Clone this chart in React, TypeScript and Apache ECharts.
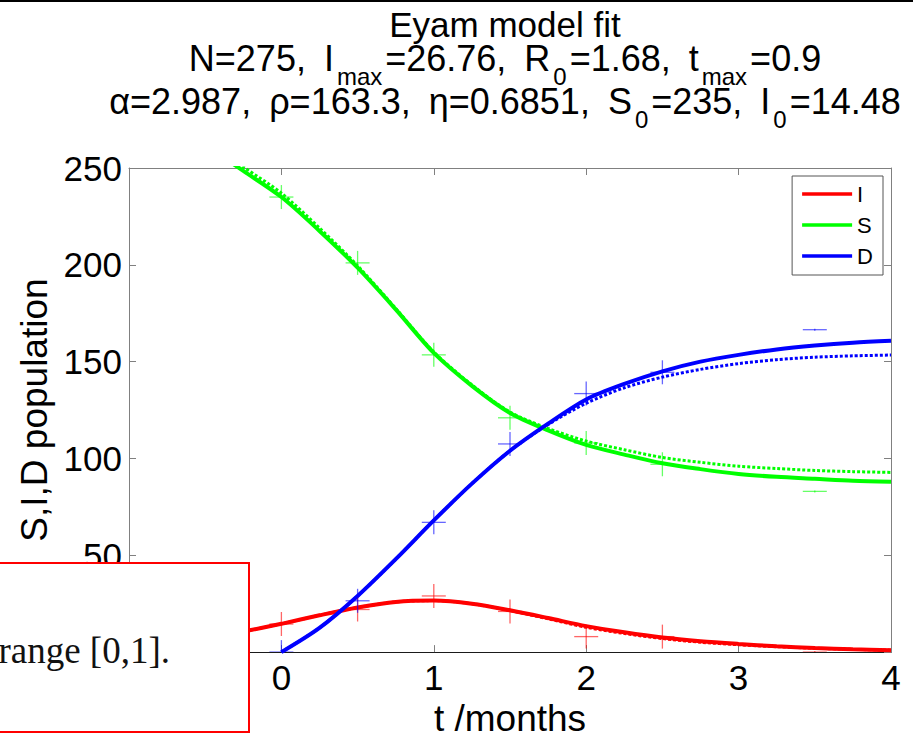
import React, { useEffect, useRef } from "react";
import * as echarts from "echarts";

const FONT = "'Liberation Sans', Arial, Helvetica, sans-serif";
const SERIF = "'Liberation Serif', 'Times New Roman', serif";

// Fitted model curves, sampled in months
const FIT_T = [-0.5, -0.25, 0, 0.25, 0.5, 0.75, 1, 1.25, 1.5, 1.75, 2, 2.25, 2.5, 2.75, 3, 3.25, 3.5, 3.75, 4];
const FIT_I = [7.0, 10.6, 14.6, 19.0, 23.0, 25.9, 26.6, 25.0, 21.6, 17.6, 13.4, 10.2, 7.5, 5.6, 4.2, 3.0, 2.1, 1.5, 1.0];
const FIT_S = [262, 248.5, 235, 217.5, 198.5, 177, 154.5, 137.5, 123.5, 114.5, 107, 102, 97.5, 94.5, 92, 90.5, 89.5, 88.5, 88];
const FIT_D = [null, null, 0, 12.5, 29, 48, 68, 87, 104, 118, 130.5, 138.5, 145, 150, 153.5, 156.3, 158.3, 159.8, 160.8];

// Second (dotted) fit
const ALT_I = [7.0, 10.6, 14.6, 19.0, 23.0, 25.9, 26.6, 25.0, 21.4, 17.2, 12.8, 9.6, 7.0, 5.1, 3.8, 2.8, 2.0, 1.4, 1.0];
const ALT_S = [264, 250.5, 237, 219, 199.5, 177.5, 155, 138, 124, 115.5, 109, 104.5, 100.5, 98, 96, 94.8, 93.8, 93.2, 92.8];
const ALT_D = [null, null, 0, 12.5, 29, 48, 68, 87, 104, 117.5, 128.5, 136.5, 142, 146, 149, 151, 152.3, 153, 153.4];

// Observed Eyam counts
const OBS_T = [0, 0.5, 1, 1.5, 2, 2.5, 3.5];
const OBS_S = [235, 201, 153.5, 121, 108, 97, 83];
const OBS_I = [14.5, 22, 29, 21, 8, 8, 0];
const OBS_D = [0, 26.5, 67, 107.5, 133.5, 144.5, 166.5];

// vertical arm (px) of each "+" marker
const CROSS_V_ARM = [12, 12, 12, 12, 12, 12, 1];

const X_MIN = -1, X_MAX = 4, X_STEP = 1;
const Y_MIN = 0, Y_MAX = 250, Y_STEP = 50;

const RED = "#ff0000";
const GREEN = "#00ff00";
const BLUE = "#0000ff";

const pairs = (ts: number[], vs: (number | null)[]) =>
  ts.map((t, i) => [t, vs[i]]).filter((p) => p[1] !== null);

const fitLine = (name: string, vs: (number | null)[], color: string, dotted: boolean) => ({
  type: "line",
  name,
  data: pairs(FIT_T, vs),
  symbol: "none",
  showSymbol: false,
  smooth: 0.3,
  clip: true,
  z: dotted ? 2 : 3,
  itemStyle: { color },
  lineStyle: dotted
    ? { color, width: 3, type: [3, 2] }
    : { color, width: 4 },
});

const crossSeries = (name: string, vs: number[], color: string) => ({
  type: "custom",
  name,
  clip: true,
  z: 6,
  data: OBS_T.map((t, i) => [t, vs[i], i]),
  renderItem: (_p: any, api: any) => {
    const c = api.coord([api.value(0), api.value(1)]);
    const v = CROSS_V_ARM[api.value(2)];
    const style = { stroke: color, lineWidth: 1.3, opacity: 0.6 };
    return {
      type: "group",
      children: [
        { type: "line", shape: { x1: c[0] - 12, y1: c[1], x2: c[0] + 12, y2: c[1] }, style },
        { type: "line", shape: { x1: c[0], y1: c[1] - v, x2: c[0], y2: c[1] + v }, style },
      ],
    };
  },
});

// m: main text, s: subscript sitting below the baseline
const TITLE_RICH = {
  h: { fontSize: 35, lineHeight: 30, verticalAlign: "top", fontFamily: FONT, fill: "#000", color: "#000" },
  m: { fontSize: 36, lineHeight: 30, verticalAlign: "top", fontFamily: FONT, fill: "#000", color: "#000" },
  s: { fontSize: 24, lineHeight: 18, padding: [24, 3, 0, 3], verticalAlign: "top", fontFamily: FONT, fill: "#000", color: "#000" },
};

// comma followed by an en space, as the title's TeX spacing is wider
const SEP = ",\u2002";

const titleLine = (text: string, y: number) => ({
  type: "text",
  x: 505,
  y,
  z: 50,
  style: {
    text,
    rich: TITLE_RICH,
    fontSize: 36,
    fontFamily: FONT,
    fill: "#000",
    align: "center",
    verticalAlign: "top",
    textAlign: "center",
    textVerticalAlign: "top",
  },
});

const frameAxis = {
  axisLine: { show: true, onZero: false, lineStyle: { color: "#808080", width: 1 } },
  axisTick: { show: true, inside: true, length: 7, lineStyle: { color: "#808080", width: 1 } },
  splitLine: { show: false },
};

export default function App() {
  const ref = useRef<HTMLDivElement>(null);

  useEffect(() => {
    if (!ref.current) return;
    const chart = echarts.init(ref.current, undefined, { renderer: "svg" });
    chart.setOption({
      animation: false,
      backgroundColor: "#ffffff",
      grid: { left: 129, right: 22, top: 168, bottom: 83, containLabel: false },
      legend: {
        data: ["I", "S", "D"],
        orient: "vertical",
        right: 30,
        top: 176,
        padding: [7, 10, 8, 10],
        itemGap: 9,
        itemWidth: 50,
        itemHeight: 3.5,
        icon: "rect",
        selectedMode: false,
        backgroundColor: "#fff",
        borderColor: "#555",
        borderWidth: 1,
        borderRadius: 0,
        z: 20,
        textStyle: { fontSize: 22, lineHeight: 20, fontFamily: FONT, color: "#000" },
      },
      xAxis: [
        {
          type: "value",
          min: X_MIN,
          max: X_MAX,
          interval: X_STEP,
          position: "bottom",
          ...frameAxis,
          axisLine: { show: true, onZero: false, lineStyle: { color: "#1a1a1a", width: 1 } },
          axisLabel: {
            fontSize: 35,
            color: "#000",
            fontFamily: FONT,
            margin: 8,
            // the leftmost label sits under the note box
            formatter: (v: number) => (v === X_MIN ? "" : String(v)),
          },
          name: "t /months",
          nameLocation: "middle",
          nameGap: 38,
          nameTextStyle: { fontSize: 37, color: "#000", fontFamily: FONT },
        },
        {
          type: "value",
          min: X_MIN,
          max: X_MAX,
          interval: X_STEP,
          position: "top",
          ...frameAxis,
          axisLabel: { show: false },
        },
      ],
      yAxis: [
        {
          type: "value",
          min: Y_MIN,
          max: Y_MAX,
          interval: Y_STEP,
          position: "left",
          ...frameAxis,
          axisLabel: {
            fontSize: 35,
            color: "#000",
            fontFamily: FONT,
            margin: 7,
            formatter: (v: number) => (v === Y_MIN ? "" : String(v)),
          },
          name: "S,I,D population",
          nameLocation: "middle",
          nameGap: 76,
          nameTextStyle: { fontSize: 37, color: "#000", fontFamily: FONT },
        },
        {
          type: "value",
          min: Y_MIN,
          max: Y_MAX,
          interval: Y_STEP,
          position: "right",
          ...frameAxis,
          axisLabel: { show: false },
        },
      ],
      series: [
        fitLine("I alt", ALT_I, RED, true),
        fitLine("S alt", ALT_S, GREEN, true),
        fitLine("D alt", ALT_D, BLUE, true),
        fitLine("I", FIT_I, RED, false),
        fitLine("S", FIT_S, GREEN, false),
        fitLine("D", FIT_D, BLUE, false),
        crossSeries("I data", OBS_I, RED),
        crossSeries("S data", OBS_S, GREEN),
        crossSeries("D data", OBS_D, BLUE),
      ],
      graphic: [
        { type: "rect", z: 100, shape: { x: 0, y: 0, width: 913, height: 2 }, style: { fill: "#000" } },
        titleLine("{h|Eyam model fit}", 7),
        titleLine(
          `{m|N=275${SEP}I}{s|max}{m|=26.76${SEP}R}{s|0}{m|=1.68${SEP}t}{s|max}{m|=0.9}`,
          40
        ),
        titleLine(
          `{m|\u03b1=2.987${SEP}\u03c1=163.3${SEP}\u03b7=0.6851${SEP}S}{s|0}{m|=235${SEP}I}{s|0}{m|=14.48}`,
          83
        ),
        {
          type: "rect",
          z: 100,
          shape: { x: -5, y: 563, width: 254, height: 169 },
          style: { fill: "#fff", stroke: RED, lineWidth: 2 },
        },
        {
          type: "text",
          z: 101,
          x: 170,
          y: 650,
          style: {
            text: "range [0,1].",
            fontSize: 37,
            fontFamily: SERIF,
            fill: "#111",
            align: "right",
            verticalAlign: "middle",
            textAlign: "right",
            textVerticalAlign: "middle",
          },
        },
      ],
    });
    return () => chart.dispose();
  }, []);

  return (
    <div
      ref={ref}
      style={{ position: "absolute", left: 0, top: 0, width: 913, height: 742 }}
    />
  );
}
